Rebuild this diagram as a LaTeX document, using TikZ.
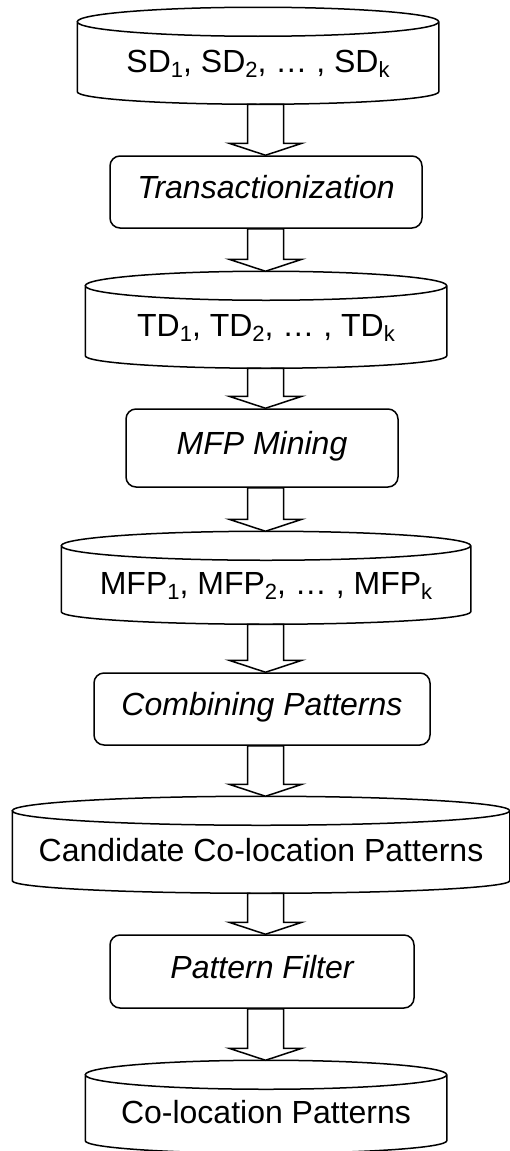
\documentclass[tikz,border=0pt]{standalone}
\usepackage{fontspec}
\setmainfont{Liberation Sans}
\usetikzlibrary{calc}

\newcommand{\subidx}[1]{\raisebox{-5pt}{\fontsize{22}{22}\selectfont #1}}
% drum outline round a face node, plus its top and base points
\newcommand{\drumoutline}[1]{%
  \draw let \p1=(#1.north west), \p2=(#1.south east) in
    (\x1,{\y1+14.5pt}) -- (\x1,\y2)
    arc[start angle=180,end angle=360,x radius={(\x2-\x1)/2},y radius=12.5pt]
    -- (\x2,{\y1+14.5pt})
    arc[start angle=0,end angle=360,x radius={(\x2-\x1)/2},y radius=14.5pt];
  \coordinate (#1-top) at ($(#1.north)+(0pt,29pt)$);
  \coordinate (#1-base) at ($(#1.south)+(0pt,-12.5pt)$);
}
\newcommand{\flowarrow}[2]{%
  \draw[fill=white] let \p1=(#1), \p2=(#2) in
    (247.5pt,\y1) -- (247.5pt,{\y2+12pt}) -- (229pt,{\y2+12pt}) -- (265.5pt,\y2)
    -- (302pt,{\y2+12pt}) -- (283.5pt,{\y2+12pt}) -- (283.5pt,\y1) -- cycle;
}

\begin{document}
\begin{tikzpicture}[x=1pt,y=-1pt,line width=1.5pt,
  every node/.style={font=\fontsize{32}{36}\selectfont},
  store/.style={inner sep=0pt,text height=23pt,text depth=6pt},
  proc/.style={draw,rounded corners=10pt,inner sep=0pt,text height=23pt,text depth=10pt,
    font=\fontsize{32}{36}\selectfont\itshape}]
\useasboundingbox (0,0) rectangle (510,1151);
\node[store,minimum width=360pt,minimum height=54pt] (sd) at (258,64) {SD\subidx{1}, SD\subidx{2}, … , SD\subidx{k}};
\node[proc,minimum width=312pt,minimum height=72pt] (trans) at (266,192) {Transactionization};
\node[store,minimum width=360pt,minimum height=54pt] (td) at (266,328) {TD\subidx{1}, TD\subidx{2}, … , TD\subidx{k}};
\node[proc,minimum width=272pt,minimum height=78pt] (mine) at (262,448) {MFP Mining};
\node[store,minimum width=408pt,minimum height=50pt] (mfp) at (266,586) {MFP\subidx{1}, MFP\subidx{2}, … , MFP\subidx{k}};
\node[proc,minimum width=336pt,minimum height=72pt] (comb) at (262,709) {Combining Patterns};
\node[store,minimum width=496pt,minimum height=54pt] (cand) at (261,853) {Candidate Co-location Patterns};
\node[proc,minimum width=304pt,minimum height=73pt] (filt) at (262,971.5) {Pattern Filter};
\node[store,minimum width=360pt,minimum height=50pt] (coloc) at (266,1115) {Co-location Patterns};
\drumoutline{sd}
\drumoutline{td}
\drumoutline{mfp}
\drumoutline{cand}
\drumoutline{coloc}
\flowarrow{sd-base}{trans.north}
\flowarrow{trans.south}{td-top}
\flowarrow{td-base}{mine.north}
\flowarrow{mine.south}{mfp-top}
\flowarrow{mfp-base}{comb.north}
\flowarrow{comb.south}{cand-top}
\flowarrow{cand-base}{filt.north}
\flowarrow{filt.south}{coloc-top}
\end{tikzpicture}
\end{document}
